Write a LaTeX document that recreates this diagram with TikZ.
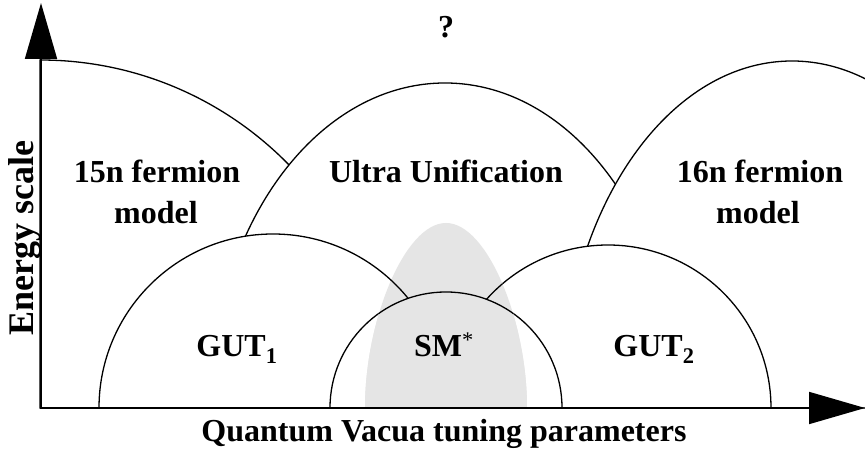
\documentclass[tikz,border=0pt]{standalone}
\usepackage{fontspec}
\setmainfont{Liberation Serif}
\usetikzlibrary{arrows.meta}
\definecolor{smgray}{HTML}{E5E5E5}
\begin{document}
\begin{tikzpicture}[x=1pt,y=1pt,
  region/.style={fill=white,draw=black,line width=1.3pt},
  arcline/.style={draw=black,line width=1.3pt},
  axis/.style={line width=1.8pt,-{Triangle[length=56pt,width=32pt]}},
  lbl/.style={font=\fontsize{32}{38}\selectfont\bfseries,inner sep=0pt,anchor=base}]
\useasboundingbox (0,0) rectangle (865,449);
\begin{scope}
  \clip (0,0) rectangle (865,449);
  % back to front
  \path[region] (40,41) -- (40,389) arc[start angle=90,end angle=0,radius=348] -- cycle;
  \path[region] (210,41) arc[start angle=180,end angle=0,x radius=235,y radius=325] -- cycle;
  \path[region] (561,41) arc[start angle=180,end angle=0,x radius=231,y radius=347] -- cycle;
  \path[region] (99,41) arc[start angle=180,end angle=0,radius=174] -- cycle;
  \path[region] (445,41) arc[start angle=180,end angle=0,radius=163] -- cycle;
  \path[region] (330,41) arc[start angle=180,end angle=0,radius=116] -- cycle;
  % grey band
  \fill[smgray] (365,41) .. controls (365,129) and (405,226) .. (446,226)
                .. controls (487,226) and (527,129) .. (527,41) -- cycle;
  \begin{scope}
    \clip (365,41) .. controls (365,129) and (405,226) .. (446,226)
          .. controls (487,226) and (527,129) .. (527,41) -- cycle;
    \draw[arcline] (99,41) arc[start angle=180,end angle=0,radius=174];
    \draw[arcline] (445,41) arc[start angle=180,end angle=0,radius=163];
    \path[arcline,fill=smgray] (330,41) arc[start angle=180,end angle=0,radius=116] -- cycle;
  \end{scope}
\end{scope}
% axes
\coordinate (O) at (41,41);
\coordinate (ytip) at (41,446);
\coordinate (xtip) at (865,41);
\coordinate (Ox) at (40.1,41);
\coordinate (Oy) at (41,40.1);
\draw[axis] (Oy) -- (ytip);
\draw[axis] (Ox) -- (xtip);
% labels
\node[lbl] (q) at (446,411) {?};
\node[lbl] (f15a) at (157,266) {15n fermion};
\node[lbl] (f15b) at (156,225) {model};
\node[lbl] (uu) at (446,266) {Ultra Unification};
\node[lbl] (f16a) at (760,266) {16n fermion};
\node[lbl] (f16b) at (758,225) {model};
\node[lbl] (g1) at (237,92) {GUT\textsubscript{1}};
\node[lbl] (sm) at (444,92) {SM{\mdseries\textsuperscript{*}}};
\node[lbl] (g2) at (654,92) {GUT\textsubscript{2}};
\node[lbl] (xl) at (444,7) {Quantum Vacua tuning parameters};
\node[lbl,font=\fontsize{36}{42}\selectfont\bfseries,rotate=90] (yl) at (33,211) {Energy scale};
\end{tikzpicture}
\end{document}
